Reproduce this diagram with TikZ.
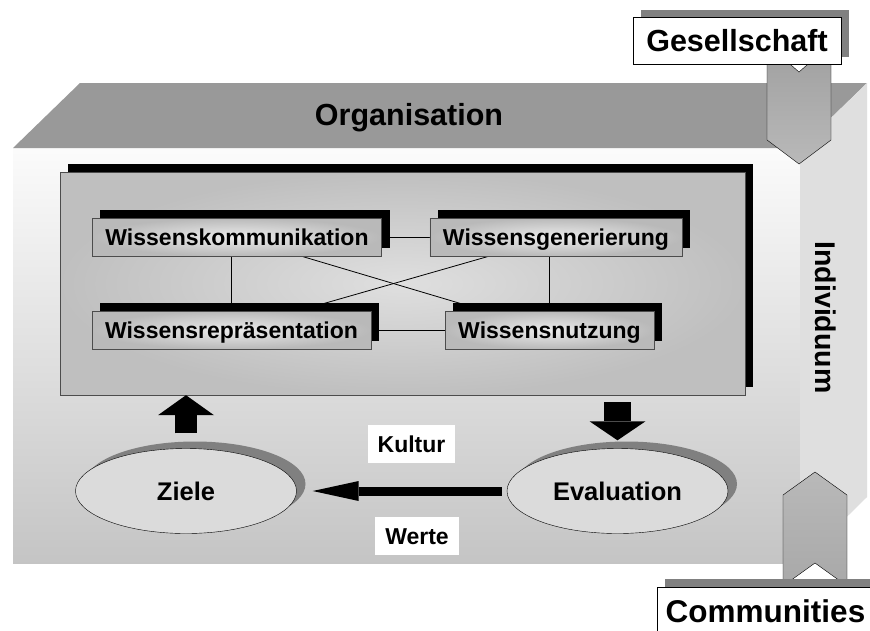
\documentclass[tikz,border=0pt]{standalone}
\usepackage{fontspec}
\setmainfont{Liberation Sans}
\usetikzlibrary{shapes.geometric,shadows,arrows.meta}
\pgfdeclarelayer{back}
\pgfdeclarelayer{bg}
\pgfsetlayers{back,bg,main}
\tikzset{
    every node/.style={inner sep=0pt, font=\bfseries}
}
\tikzset{
    kbox/.style={rectangle, draw=black!70, shading=radial, inner color=gray!15, outer color=gray!55,
        minimum height=38pt, inner xsep=13pt, text height=16.5pt, text depth=0pt,
        font=\bfseries\fontsize{23}{27}\selectfont,
        drop shadow={shadow xshift=8pt, shadow yshift=8pt, fill=black, opacity=1}},
    panel/.style={rectangle, draw=black!70, shading=radial, inner color=gray!25, outer color=gray!50,
        minimum width=685pt, minimum height=223pt,
        drop shadow={shadow xshift=7.5pt, shadow yshift=8pt, fill=black, opacity=1}},
    oval/.style={ellipse, draw=black, fill=gray!28, minimum width=221pt, minimum height=85pt,
        text height=18.5pt, text depth=0pt, font=\bfseries\fontsize{25.5}{30}\selectfont,
        drop shadow={shadow xshift=9pt, shadow yshift=7pt, fill=gray, opacity=1}},
    tag/.style={rectangle, fill=white, minimum height=38pt, inner xsep=10pt,
        text height=16.5pt, text depth=0pt, font=\bfseries\fontsize{23}{27}\selectfont},
    title/.style={text height=21.8pt, text depth=0pt, font=\bfseries\fontsize{30.5}{36}\selectfont},
    titlebox/.style={title, rectangle, draw=black, fill=white,
        drop shadow={shadow xshift=8pt, shadow yshift=7pt, fill=gray, opacity=1}},
    chevron/.style={draw=black, thin}
}

\begin{document}
\begin{tikzpicture}[x=1pt, y=-1pt]
    \useasboundingbox (0, 0) rectangle (870, 630);

    \begin{pgfonlayer}{back}
        \fill[white] (0, 0) rectangle (870, 630);
        \shade[top color=gray!3, bottom color=gray!46] (13, 148) rectangle (800, 563);
        \fill[gray!80] (13, 148) -- (80, 83) -- (867, 83) -- (800, 148) -- cycle;
        \fill[gray!25] (800, 148) -- (867, 83) -- (867, 497) -- (800, 563) -- cycle;

        \node (org) [title, anchor=base] at (409, 125) {Organisation};
        \node (ind) [title, font=\bfseries\fontsize{28.5}{34}\selectfont, rotate=-90] at (826.5, 317.5) {Individuum};

        \node (panel) [panel] at (402.5, 283.5) {};
    \end{pgfonlayer}

    \node (wk) [kbox] at (237, 237) {Wissenskommunikation};
    \node (wg) [kbox] at (556, 237) {Wissensgenerierung};
    \node (wr) [kbox] at (231.5, 330) {Wissensrepräsentation};
    \node (wn) [kbox] at (549.5, 330) {Wissensnutzung};

    \begin{pgfonlayer}{bg}
        \draw[line width=0.8pt] (wk) edge (wg);
        \draw[line width=0.8pt] (wr) edge (wn);
        \draw[line width=0.8pt] (wk) edge (wn);
        \draw[line width=0.8pt] (wg) edge (wr);
        \draw[line width=0.8pt] (wk.south -| wr) -- (wr);
        \draw[line width=0.8pt] (wg.south -| wn) -- (wn);
    \end{pgfonlayer}

    \node (ziele) [oval] at (186, 491) {Ziele};
    \node (eval) [oval] at (617.5, 491) {Evaluation};
    \node (kultur) [tag] at (411.5, 444) {Kultur};
    \node (werte) [tag] at (417, 536) {Werte};

    \draw[line width=22pt, -{Triangle[length=20pt, width=56pt, line width=0pt]}, shorten <=15pt]
        (ziele.north) -- (ziele.north |- panel.south);
    \draw[line width=27pt, -{Triangle[length=19pt, width=56pt, line width=0pt]}, shorten <=7pt, shorten >=8pt]
        (panel.south -| eval.north) -- (eval.north);
    \draw[line width=9pt, -{Triangle[length=46pt, width=20pt, line width=0pt]}, shorten <=5pt, shorten >=16pt]
        (eval.west) -- (ziele.east);

    \shade[chevron, top color=gray!75, middle color=gray!85, bottom color=gray!55]
        (767, 44) -- (799, 72) -- (831, 44) -- (831, 140) -- (799, 164) -- (767, 140) -- cycle;
    \shade[chevron, top color=gray!55, bottom color=gray!68]
        (783, 586) -- (815, 563) -- (847, 586) -- (847, 495) -- (815, 472) -- (783, 495) -- cycle;

    \node (ges) [titlebox, minimum width=208pt, minimum height=47pt] at (737, 40.5) {Gesellschaft};
    \node (com) [titlebox, text height=22.5pt, font=\bfseries\fontsize{31.5}{37}\selectfont,
        minimum width=217pt, minimum height=47.5pt,
        drop shadow={shadow xshift=8pt, shadow yshift=8pt, fill=gray, opacity=1}] at (765.5, 610.75) {Communities};
\end{tikzpicture}
\end{document}
